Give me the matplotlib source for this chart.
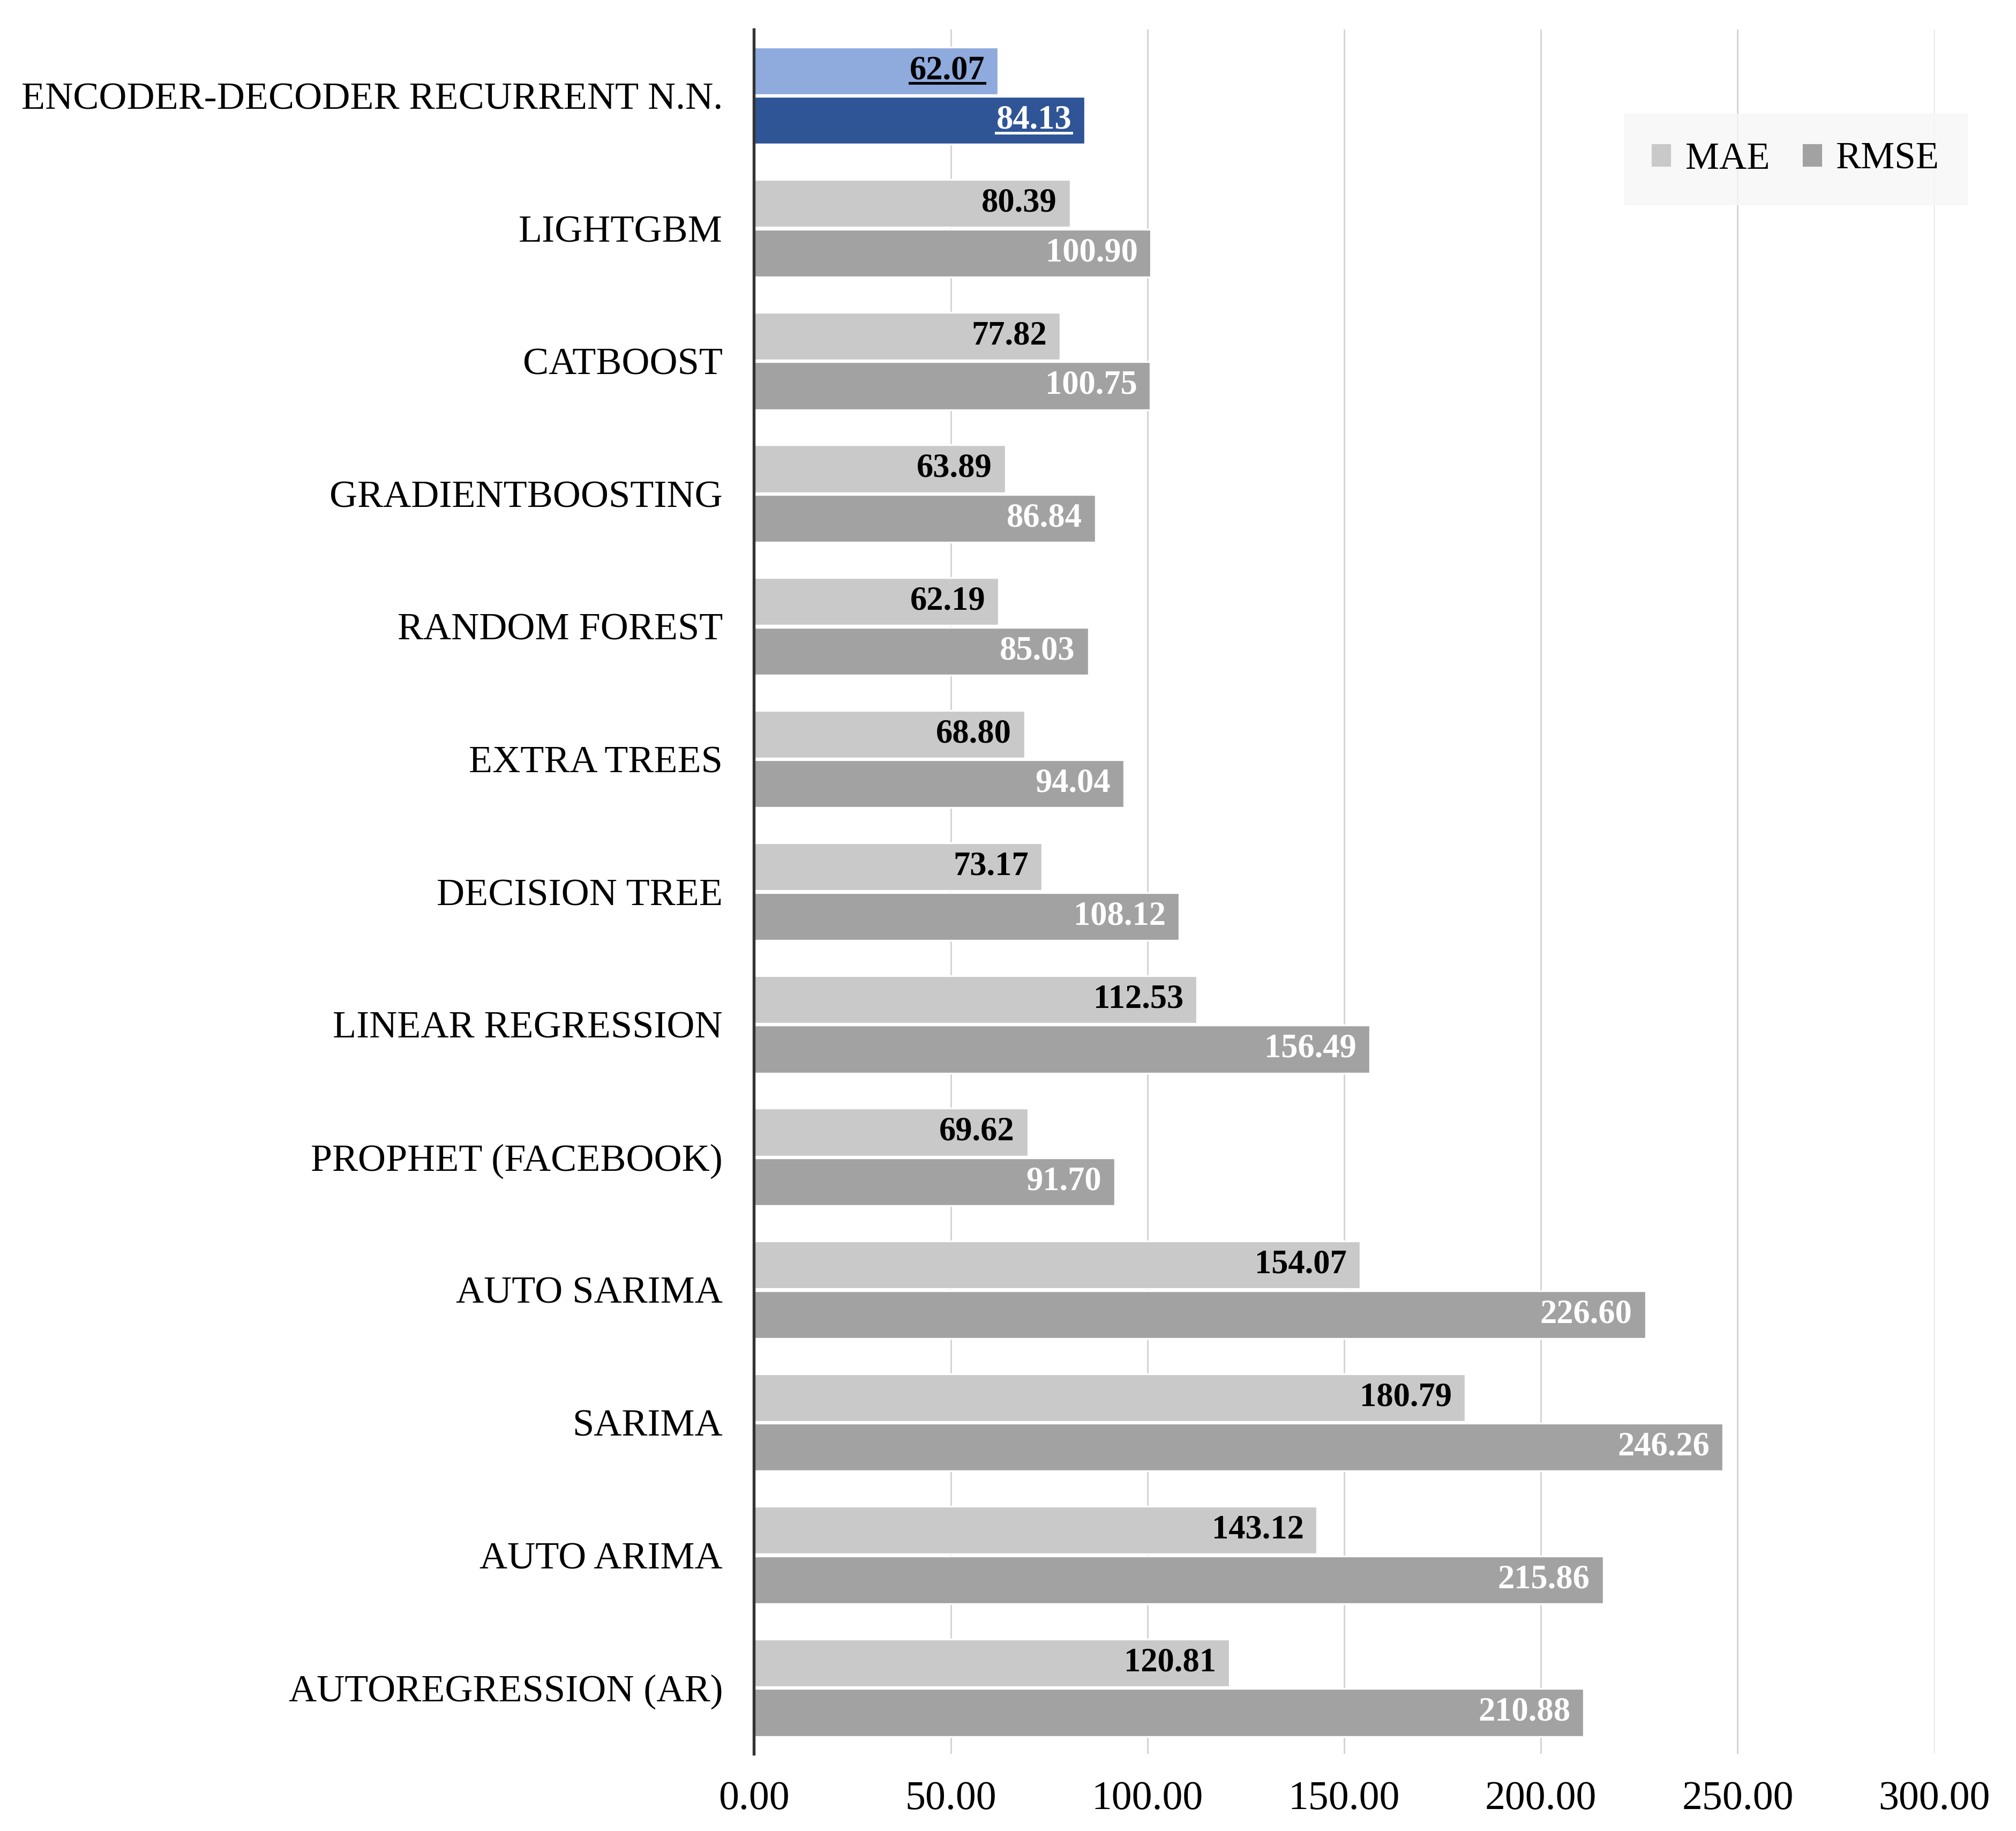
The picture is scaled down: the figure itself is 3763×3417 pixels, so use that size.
import matplotlib.pyplot as plt
import numpy as np
from matplotlib.patches import Patch

# model names, top to bottom as in the chart
models = ['ENCODER-DECODER RECURRENT N.N.', 'LIGHTGBM', 'CATBOOST', 'GRADIENTBOOSTING',
          'RANDOM FOREST', 'EXTRA TREES', 'DECISION TREE', 'LINEAR REGRESSION',
          'PROPHET (FACEBOOK)', 'AUTO SARIMA', 'SARIMA', 'AUTO ARIMA', 'AUTOREGRESSION (AR)']
mae = [62.07, 80.39, 77.82, 63.89, 62.19, 68.80, 73.17, 112.53, 69.62, 154.07, 180.79, 143.12, 120.81]
rmse = [84.13, 100.90, 100.75, 86.84, 85.03, 94.04, 108.12, 156.49, 91.70, 226.60, 246.26, 215.86, 210.88]
xticks = [0, 50, 100, 150, 200, 250, 300]

plt.rcParams['font.family'] = ['Liberation Serif', 'DejaVu Serif']

mae_colors = ['#8FAADC'] + ['#C9C9C9'] * (len(models) - 1)
rmse_colors = ['#2F5597'] + ['#A2A2A2'] * (len(models) - 1)

fig = plt.figure(figsize=(3763 / 300, 3417 / 300), dpi=300)
ax = fig.add_axes([0.374, 0.042, 0.5855, 0.942])

y = np.arange(len(models))
h = 0.36
off = 0.187
ax.barh(y - off, mae, height=h, color=mae_colors, edgecolor='white', linewidth=0.8, zorder=3)
ax.barh(y + off, rmse, height=h, color=rmse_colors, edgecolor='white', linewidth=0.8, zorder=3)

ax.set_ylim(len(models) - 0.5, -0.5)
ax.set_xlim(0, 300)
ax.set_yticks(y)
ax.set_yticklabels(models, fontsize=17.3)
ax.set_xticks(xticks)
ax.set_xticklabels([f'{t:.2f}' for t in xticks], fontsize=18.2)
ax.tick_params(axis='both', length=0)
ax.tick_params(axis='y', pad=14)
ax.tick_params(axis='x', pad=12)

ax.grid(axis='x', color='#D4D4D4', linewidth=0.7, zorder=0)
for s in ['top', 'right', 'bottom']:
    ax.spines[s].set_visible(False)
ax.spines['left'].set_color('#333333')
ax.spines['left'].set_linewidth(1.3)
ax.spines['left'].set_zorder(5)

labels = []
for i in range(len(models)):
    t1 = ax.annotate(f'{mae[i]:.2f}', xy=(mae[i], y[i] - off), xytext=(-6, 0),
                     textcoords='offset points', ha='right', va='center',
                     fontsize=15, fontweight='bold', color='black', zorder=4)
    t2 = ax.annotate(f'{rmse[i]:.2f}', xy=(rmse[i], y[i] + off), xytext=(-6, 0),
                     textcoords='offset points', ha='right', va='center',
                     fontsize=15, fontweight='bold', color='white', zorder=4)
    if i == 0:
        labels += [(t1, 'black'), (t2, 'white')]

# legend
handles = [Patch(color='#C9C9C9', label='MAE'), Patch(color='#A2A2A2', label='RMSE')]
leg = fig.legend(handles=handles, loc='center', bbox_to_anchor=(0.891, 0.913), ncol=2,
                 fontsize=17, frameon=True, handlelength=0.45, handleheight=0.45,
                 handletextpad=0.4, columnspacing=0.9, borderpad=0.42, borderaxespad=0)
leg.get_frame().set_facecolor('#F7F7F7')
leg.get_frame().set_edgecolor('#F7F7F7')
leg.get_frame().set_boxstyle('square')

# underline the highlighted values
fig.canvas.draw()
r = fig.canvas.get_renderer()
inv = fig.transFigure.inverted()
for t, c in labels:
    bb = t.get_window_extent(r)
    (x0, y0), (x1, _) = inv.transform([(bb.x0, bb.y0 + 6), (bb.x1, bb.y0 + 6)])
    fig.add_artist(plt.Line2D([x0, x1], [y0, y0], color=c, linewidth=1.2, zorder=6))

plt.savefig('out.png', dpi=300)
